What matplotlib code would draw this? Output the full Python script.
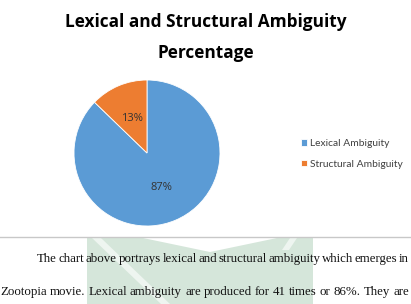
import matplotlib.pyplot as plt
from matplotlib.lines import Line2D
from matplotlib.patches import Polygon

# pie data (counts -> 87% / 13%)
labels = ['Lexical Ambiguity', 'Structural Ambiguity']
counts = [41, 6]
colors = ['#5B9BD5', '#ED7D31']

title_lines = ['Lexical and Structural Ambiguity', 'Percentage']
body_lines = [
    'The chart above portrays lexical and structural ambiguity which emerges in',
    'Zootopia movie. Lexical ambiguity are produced for 41 times or 86%. They are',
]

W, H = 411, 304
fig = plt.figure(figsize=(W / 100, H / 100), dpi=100)

def fx(px):
    return px / W

def fy(py):
    return 1 - py / H

def shape(pts, color):
    fig.add_artist(Polygon([(fx(x), fy(y)) for x, y in pts], closed=True,
                           transform=fig.transFigure, facecolor=color,
                           edgecolor='none', zorder=0))

# faint watermark behind the body text
wm = '#d5e6da'
shape([(87, 238), (313, 238), (313, 304), (87, 304)], wm)
shape([(143, 238), (277, 238), (210, 252)], 'white')
shape([(92, 238), (101, 238), (170, 304), (161, 304)], '#eef5f0')
shape([(290, 238), (297, 238), (289, 250), (282, 250)], '#eef5f0')

# title
for i, t in enumerate(title_lines):
    fig.text(fx(206), fy(22 + 31 * i), t, ha='center', va='center',
             fontsize=12.4, fontweight='bold', family='Open Sans', color='black')

# pie
cx, cy, r = 147, 153, 73
ax = fig.add_axes([fx(cx - r), fy(cy + r), 2 * r / W, 2 * r / H])
wedges, texts, autotexts = ax.pie(counts, colors=colors, startangle=90, counterclock=False,
                                  autopct='%.0f%%', pctdistance=0.51,
                                  wedgeprops=dict(edgecolor='white', linewidth=0.6),
                                  textprops=dict(fontsize=8, color='#333333', family='Open Sans'))
ax.set_xlim(-1, 1)
ax.set_ylim(-1, 1)
ax.set_aspect('auto')
ax.axis('off')

fig.legend(wedges, labels, loc='center left', bbox_to_anchor=(fx(301), fy(154)),
           frameon=False, prop=dict(family='Lato', size=7.4),
           handlelength=0.6, handleheight=0.6, handletextpad=0.3, labelspacing=1.1,
           borderpad=0, borderaxespad=0, labelcolor='#404040')

# separator line
fig.add_artist(Line2D([0, 1], [fy(237), fy(237)], color='#c8c8c8', lw=1,
                      transform=fig.transFigure))

# justified body text
fig.canvas.draw()
renderer = fig.canvas.get_renderer()
line_specs = [(37, 409, 259), (0, 409, 292)]
for text, (x0, x1, y) in zip(body_lines, line_specs):
    words = text.split(' ')
    arts = [fig.text(0, fy(y), w, ha='left', va='center', fontsize=9.3,
                     family='Liberation Serif', color='#111111') for w in words]
    widths = [a.get_window_extent(renderer).width for a in arts]
    gap = ((x1 - x0) - sum(widths)) / (len(words) - 1)
    x = x0
    for a, w in zip(arts, widths):
        a.set_x(fx(x))
        x += w + gap

fig.savefig('out.png', dpi=100)
